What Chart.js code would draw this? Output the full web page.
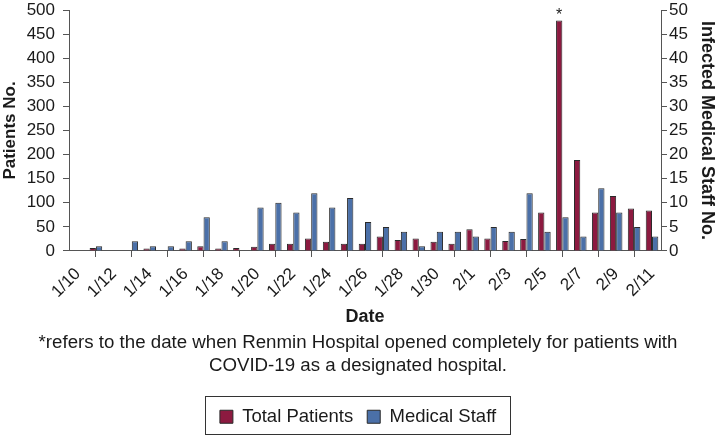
<!DOCTYPE html>
<html>
<head>
<meta charset="utf-8">
<script src="https://cdn.jsdelivr.net/npm/chart.js@4/dist/chart.umd.min.js"></script>
<style>
  html, body { margin: 0; padding: 0; background: #fff; }
  #wrap { width: 716px; height: 436px; }
</style>
</head>
<body>
<div id="wrap"><canvas id="myChart"></canvas></div>
<script>
const dates = [
  "1/10", "1/11", "1/12", "1/13", "1/14", "1/15", "1/16", "1/17", "1/18", "1/19",
  "1/20", "1/21", "1/22", "1/23", "1/24", "1/25", "1/26", "1/27", "1/28", "1/29",
  "1/30", "1/31", "2/1", "2/2", "2/3", "2/4", "2/5", "2/6", "2/7", "2/8",
  "2/9", "2/10", "2/11"
];
// Total patients (left axis)
const totalPatients = [
  0, 6, 0, 0, 5, 0, 5, 10, 5, 6,
  9, 15, 15, 26, 19, 15, 15, 30, 23, 26,
  19, 15, 45, 26, 21, 25, 80, 478, 189, 80,
  114, 88, 84
];
// Infected medical staff (right axis)
const medicalStaff = [
  0, 1, 0, 2, 1, 1, 2, 7, 2, 0,
  9, 10, 8, 12, 9, 11, 6, 5, 4, 1,
  4, 4, 3, 5, 4, 12, 4, 7, 3, 13,
  8, 5, 3
];
const markedDay = "2/6"; // asterisk
const footnote = [
  "*refers to the date when Renmin Hospital opened completely for patients with",
  "COVID-19 as a designated hospital."
];

const colors = {
  red: "#8c1a40",
  blue: "#4b70a8",
  edge: "#2a2a2a",
  axis: "#555555",
  text: "#1a1a1a"
};

Chart.defaults.font.family = "'Liberation Sans', Arial, Helvetica, sans-serif";
Chart.defaults.color = colors.text;

// star above the marked bar + border round the legend
const extras = {
  id: "extras",
  afterDatasetsDraw(chart) {
    const ctx = chart.ctx;
    const bar = chart.getDatasetMeta(0).data[dates.indexOf(markedDay)];
    ctx.save();
    ctx.fillStyle = colors.text;
    ctx.font = "16px 'Liberation Sans', Arial, sans-serif";
    ctx.textAlign = "center";
    ctx.textBaseline = "alphabetic";
    ctx.fillText("*", bar.x, bar.y - 1);
    ctx.restore();
  },
  afterDraw(chart) {
    const boxes = chart.legend.legendHitBoxes;
    if (!boxes || !boxes.length) return;
    let left = Infinity, right = -Infinity, top = Infinity, bottom = -Infinity;
    boxes.forEach(b => {
      left = Math.min(left, b.left);
      right = Math.max(right, b.left + b.width);
      top = Math.min(top, b.top);
      bottom = Math.max(bottom, b.top + b.height);
    });
    const ctx = chart.ctx;
    ctx.save();
    ctx.strokeStyle = "#333";
    ctx.lineWidth = 1;
    const x0 = Math.round(left - 15) + 0.5;
    const y0 = Math.round(top - 12) + 0.5;
    const x1 = Math.round(right + 14) + 0.5;
    const y1 = Math.min(Math.round(bottom + 9) + 0.5, chart.height - 1.5);
    ctx.strokeRect(x0, y0, x1 - x0, y1 - y0);
    ctx.restore();
  }
};

new Chart("myChart", {
  type: "bar",
  data: {
    labels: dates,
    datasets: [
      {
        label: "Total Patients",
        data: totalPatients,
        yAxisID: "y",
        backgroundColor: colors.red,
        borderColor: colors.edge,
        borderWidth: 1,
        categoryPercentage: 0.7,
        barPercentage: 1.0
      },
      {
        label: "Medical Staff",
        data: medicalStaff,
        yAxisID: "y1",
        backgroundColor: colors.blue,
        borderColor: colors.edge,
        borderWidth: 1,
        categoryPercentage: 0.7,
        barPercentage: 1.0
      }
    ]
  },
  options: {
    responsive: true,
    maintainAspectRatio: false,
    animation: false,
    layout: { padding: { top: 10, left: 0, right: 0, bottom: 0 } },
    plugins: {
      legend: {
        position: "bottom",
        weight: 3000,
        labels: {
          boxWidth: 13,
          boxHeight: 13,
          padding: 14,
          color: colors.text,
          font: { size: 18.5 }
        }
      },
      subtitle: {
        display: true,
        position: "bottom",
        text: footnote,
        color: colors.text,
        font: { size: 18.7, lineHeight: 1.23 },
        padding: { top: 3.5, bottom: 16 }
      },
      tooltip: { enabled: false }
    },
    scales: {
      x: {
        offset: true,
        grid: {
          offset: true,
          drawOnChartArea: false,
          tickLength: 6,
          color: colors.axis
        },
        border: { color: colors.axis },
        ticks: {
          autoSkip: false,
          maxRotation: 45,
          minRotation: 45,
          padding: 7,
          font: { size: 17 },
          callback: function (value, index) {
            return index % 2 === 0 ? this.getLabelForValue(value) : null;
          }
        },
        title: {
          display: true,
          text: "Date",
          font: { size: 18, weight: "bold", lineHeight: 1 },
          padding: { top: 0, bottom: 2 }
        },
        afterFit: (scale) => { scale.height = 77; }
      },
      y: {
        position: "left",
        min: 0,
        max: 500,
        ticks: { stepSize: 50, autoSkip: false, padding: 8, font: { size: 17, lineHeight: 0.2 } },
        grid: { drawOnChartArea: false, tickLength: 6, color: colors.axis },
        border: { color: colors.axis },
        title: {
          display: true,
          text: "Patients No.",
          font: { size: 17, weight: "bold", lineHeight: 1 },
          padding: { top: 2, bottom: 0 }
        },
        afterFit: (scale) => { scale.width = 69; }
      },
      y1: {
        position: "right",
        min: 0,
        max: 50,
        ticks: { stepSize: 5, autoSkip: false, padding: 2, font: { size: 17, lineHeight: 0.2 } },
        grid: { drawOnChartArea: false, tickLength: 6, color: colors.axis },
        border: { color: colors.axis },
        title: {
          display: true,
          text: "Infected Medical Staff No.",
          font: { size: 18, weight: "bold", lineHeight: 1 },
          padding: { top: 0, bottom: 0 }
        },
        afterFit: (scale) => { scale.width = 55; }
      }
    }
  },
  plugins: [extras]
});
</script>
</body>
</html>
